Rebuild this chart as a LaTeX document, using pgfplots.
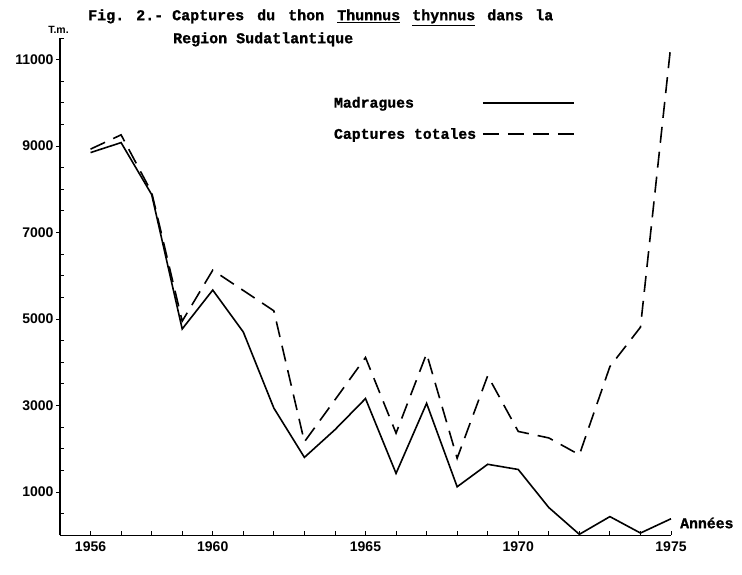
\documentclass[border=0pt]{standalone}
\usepackage{fontspec}
\setmainfont{Liberation Sans}
\newfontfamily\mono[FakeBold=1.2]{Liberation Mono Bold}
\usepackage{pgfplots}
\pgfplotsset{compat=1.18}
\begin{document}
\begin{tikzpicture}
\begin{axis}[
  at={(0pt,0pt)}, anchor=south west,
  scale only axis, width=611pt, height=497.2pt,
  xmin=1955, xmax=1975, ymin=0, ymax=11500,
  axis lines=left,
  axis line style={-, line width=1.1pt},
  clip=false,
  scaled ticks=false,
  tick align=inside,
  major tick length=4pt, minor tick length=4pt,
  every tick/.style={black, line width=0.9pt},
  xtick={1956,1960,1965,1970,1975},
  minor xtick={1957,1958,1959,1961,1962,1963,1964,1966,1967,1968,1969,1971,1972,1973,1974},
  ytick={500,1500,2000,2500,3500,4000,4500,5500,6000,6500,7500,8000,8500,9500,10000,10500,11500},
  yticklabels={},
  extra y ticks={1000,3000,5000,7000,9000,11000},
  extra y tick labels={1000,3000,5000,7000,9000,11000},
  extra y tick style={tick align=outside, major tick length=4pt},
  /pgf/number format/assume math mode=true,
  xticklabel style={font=\fontsize{14}{14}\selectfont\bfseries, yshift=-3pt},
  yticklabel style={font=\fontsize{14}{14}\selectfont\bfseries, xshift=1pt},
  xticklabel={\pgfmathprintnumber[1000 sep=]{\tick}},
  legend plot pos=right,
  legend cell align=left,
  legend style={draw=none, fill=none, at={(0.44,0.89)}, anchor=north west,
    font={\fontsize{14.8}{16}\selectfont\mono},
    row sep=15pt, column sep=4pt},
  legend image code/.code={\draw[#1] (0pt,0pt) -- (91pt,0pt);},
]
\addplot[black, line width=1.6pt] coordinates {
(1956,8850)(1957,9080)(1958,7880)(1959,4770)(1960,5670)(1961,4700)(1962,2940)
(1963,1800)(1964,2440)(1965,3160)(1966,1430)(1967,3050)(1968,1120)(1969,1640)
(1970,1520)(1971,640)(1972,20)(1973,430)(1974,50)(1975,380)};
\addlegendentry{Madragues}
\addplot[black, line width=1.6pt, dash pattern=on 16pt off 9pt] coordinates {
(1956,8930)(1957,9260)(1958,7930)(1959,4950)(1960,6130)(1961,5660)(1962,5190)
(1963,2160)(1964,3130)(1965,4110)(1966,2360)(1967,4200)(1968,1780)(1969,3690)
(1970,2400)(1971,2250)(1972,1860)(1973,3900)(1974,4810)(1975,11370)};
\addlegendentry{Captures totales}
\end{axis}
\node[anchor=base west, inner sep=0pt, font={\fontsize{15}{16}\selectfont\mono}] at (28pt,515pt) {Fig. 2.- Captures\hspace{4pt} du\hspace{4pt} thon\hspace{4pt} \underline{Thunnus}\hspace{3pt} \underline{thynnus}\hspace{3pt} dans\hspace{3pt} la};
\node[anchor=base west, inner sep=0pt, font={\fontsize{15}{16}\selectfont\mono}] at (113pt,492pt) {Region Sudatlantique};
\node[font={\fontsize{10.5}{11}\selectfont\bfseries}] at (-1.5pt,505pt) {T.m.};
\node[anchor=base west, inner sep=0pt, font={\fontsize{14.8}{16}\selectfont\mono}] at (620pt,7pt) {Années};
\pgfresetboundingbox
\useasboundingbox (-60pt,-38.8pt) rectangle (682pt,535.2pt);
\end{tikzpicture}
\end{document}
